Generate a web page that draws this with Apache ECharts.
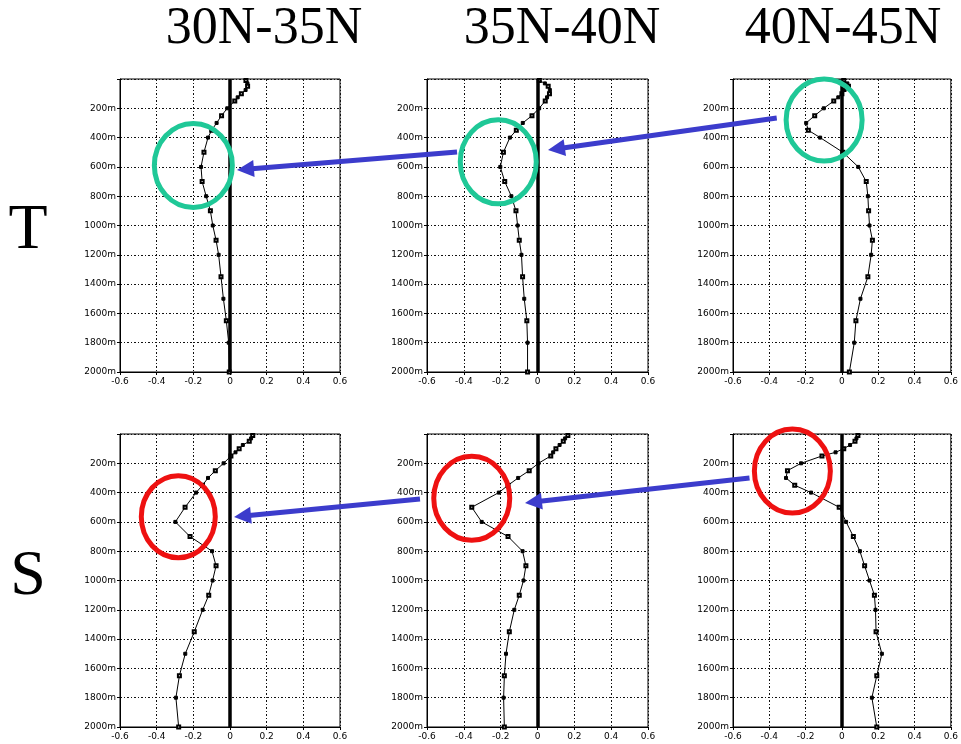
<!DOCTYPE html>
<html>
<head>
<meta charset="utf-8">
<script src="https://cdn.jsdelivr.net/npm/echarts@6/dist/echarts.min.js"></script>
<style>
html,body{margin:0;padding:0;background:#fff;}
#chart{width:961px;height:744px;}
</style>
</head>
<body>
<div id="chart"></div>
<script>
// ---- data ----
const depths = [10, 30, 50, 75, 100, 125, 150, 200, 250, 300, 350, 400, 500, 600, 700, 800, 900, 1000, 1100, 1200, 1350, 1500, 1650, 1800, 2000];
const columnTitles = ['30N-35N', '35N-40N', '40N-45N'];
const rowLabels = ['T', 'S'];
const xTicks = [-0.6, -0.4, -0.2, 0, 0.2, 0.4, 0.6];
const yTicks = [200, 400, 600, 800, 1000, 1200, 1400, 1600, 1800, 2000];

const T_30N35N = [0.087, 0.095, 0.096, 0.085, 0.062, 0.042, 0.026, -0.015, -0.046, -0.073, -0.1, -0.12, -0.142, -0.158, -0.152, -0.13, -0.107, -0.094, -0.076, -0.062, -0.049, -0.036, -0.02, -0.007, -0.004];
const T_35N40N = [0.01, 0.04, 0.058, 0.067, 0.065, 0.052, 0.042, 0.009, -0.03, -0.08, -0.115, -0.15, -0.185, -0.202, -0.178, -0.142, -0.117, -0.108, -0.099, -0.087, -0.081, -0.072, -0.058, -0.054, -0.054];
const T_40N45N = [0.01, 0.03, 0.036, 0.015, 0.0, -0.02, -0.045, -0.1, -0.15, -0.197, -0.185, -0.12, 0.005, 0.09, 0.134, 0.143, 0.147, 0.152, 0.168, 0.161, 0.143, 0.102, 0.077, 0.068, 0.041];
const S_30N35N = [0.124, 0.115, 0.105, 0.07, 0.05, 0.03, 0.005, -0.035, -0.08, -0.12, -0.15, -0.185, -0.245, -0.298, -0.218, -0.098, -0.076, -0.095, -0.116, -0.149, -0.195, -0.244, -0.276, -0.295, -0.28];
const S_35N40N = [0.165, 0.15, 0.14, 0.12, 0.1, 0.085, 0.072, 0.005, -0.045, -0.105, -0.16, -0.21, -0.357, -0.303, -0.16, -0.081, -0.063, -0.076, -0.099, -0.126, -0.153, -0.171, -0.18, -0.184, -0.18];
const S_40N45N = [0.088, 0.08, 0.072, 0.045, 0.01, -0.035, -0.11, -0.225, -0.3, -0.308, -0.26, -0.17, -0.015, 0.023, 0.063, 0.099, 0.125, 0.152, 0.179, 0.185, 0.188, 0.22, 0.192, 0.165, 0.192];

const panels = [T_30N35N, T_35N40N, T_40N45N, S_30N35N, S_35N40N, S_40N45N];

// ---- annotations (in data coordinates of a panel) ----
const GREEN = '#1fc897', RED = '#ee1111', BLUE = '#3c3ccc';
const rings = [
  {p: 0, x: -0.200, d: 590, rx: 39, ry: 42, c: GREEN},
  {p: 1, x: -0.213, d: 565, rx: 38, ry: 42, c: GREEN},
  {p: 2, x: -0.098, d: 280, rx: 38, ry: 41, c: GREEN},
  {p: 3, x: -0.282, d: 565, rx: 37, ry: 41, c: RED},
  {p: 4, x: -0.357, d: 439, rx: 38, ry: 42, c: RED},
  {p: 5, x: -0.273, d: 253, rx: 38, ry: 42, c: RED}
];
const arrows = [
  {from: [1, -0.437, 498], to: [0, 0.038, 621]},
  {from: [2, -0.359, 266], to: [1, 0.057, 485]},
  {from: [4, -0.638, 444], to: [3, 0.022, 566]},
  {from: [5, -0.509, 300], to: [4, -0.068, 471]}
];

// ---- layout ----
const colLeft = [120, 427, 733];
const colWidth = [220, 221, 224];
const rowTop = [79, 434];
const rowHeight = 293;

const grids = [], xAxes = [], yAxes = [], series = [];
const dash = [2, 2, 1, 2];
for (let r = 0; r < 2; r++) {
  for (let c = 0; c < 3; c++) {
    const i = r * 3 + c;
    grids.push({left: colLeft[c], top: rowTop[r], width: colWidth[c], height: rowHeight,
      show: true, borderColor: '#000', borderWidth: 1, backgroundColor: 'transparent'});
    xAxes.push({
      type: 'value', gridIndex: i, min: xTicks[0], max: xTicks[xTicks.length - 1], interval: 0.2,
      axisLine: {show: true, onZero: false, lineStyle: {color: '#000', width: 1}},
      axisTick: {show: true, length: 3, lineStyle: {color: '#000'}},
      axisLabel: {fontSize: 9, color: '#000', margin: 5, fontFamily: 'DejaVu Sans',
        formatter: v => { const t = Math.round(v * 10) / 10; return t === 0 ? '0' : t.toFixed(1); }},
      splitLine: {show: true, lineStyle: {color: '#111', width: 1, type: dash}}
    });
    yAxes.push({
      type: 'value', gridIndex: i, inverse: true, min: 0, max: yTicks[yTicks.length - 1], interval: 200,
      axisLine: {show: true, onZero: false, lineStyle: {color: '#000', width: 1}},
      axisTick: {show: true, length: 3, lineStyle: {color: '#000'}},
      axisLabel: {fontSize: 9, color: '#000', margin: 4, fontFamily: 'DejaVu Sans',
        formatter: v => yTicks.indexOf(v) >= 0 ? v + 'm' : ''},
      splitLine: {show: true, lineStyle: {color: '#111', width: 1, type: dash}}
    });
    const vals = panels[i];
    series.push({
      type: 'line', xAxisIndex: i, yAxisIndex: i,
      data: depths.map((d, k) => [vals[k], d]),
      symbol: (v, p) => (p.dataIndex % 2 ? 'rect' : 'emptyRect'),
      symbolSize: 3,
      showAllSymbol: true,
      lineStyle: {color: '#000', width: 1},
      itemStyle: {color: '#000', borderColor: '#000', borderWidth: 1},
      z: 3,
      markLine: {
        silent: true, symbol: ['none', 'none'], animation: false,
        label: {show: false},
        lineStyle: {color: '#000', width: 3.5, type: 'solid'},
        data: [{xAxis: 0}]
      }
    });
  }
}

const chart = echarts.init(document.getElementById('chart'), null, {renderer: 'canvas'});
chart.setOption({
  animation: false,
  grid: grids, xAxis: xAxes, yAxis: yAxes, series: series
});

function px(p, x, d) { return chart.convertToPixel({gridIndex: p}, [x, d]); }

const gfx = [];
const titleX = [264, 562, 843];
columnTitles.forEach((t, c) => gfx.push({
  type: 'text', x: titleX[c], y: 29, z: 100,
  style: {text: t, fontFamily: 'Liberation Serif', fontSize: 52, fill: '#000', textAlign: 'center', textVerticalAlign: 'middle'}
}));
const rowY = [231, 577];
rowLabels.forEach((t, r) => gfx.push({
  type: 'text', x: 28, y: rowY[r], z: 100,
  style: {text: t, fontFamily: 'Liberation Serif', fontSize: 64, fill: '#000', textAlign: 'center', textVerticalAlign: 'middle'}
}));
rings.forEach(g => {
  const [cx, cy] = px(g.p, g.x, g.d);
  gfx.push({type: 'ellipse', z: 100, shape: {cx, cy, rx: g.rx, ry: g.ry},
    style: {fill: 'none', stroke: g.c, lineWidth: 5}});
});
arrows.forEach(a => {
  const [x1, y1] = px(a.from[0], a.from[1], a.from[2]);
  const [x2, y2] = px(a.to[0], a.to[1], a.to[2]);
  const dx = x2 - x1, dy = y2 - y1, L = Math.hypot(dx, dy);
  const ux = dx / L, uy = dy / L, nx = -uy, ny = ux;
  const hl = 17, hw = 8.5;
  const bx = x2 - ux * hl, by = y2 - uy * hl;
  gfx.push({type: 'line', z: 100, shape: {x1, y1, x2: bx + ux * 2, y2: by + uy * 2},
    style: {stroke: BLUE, lineWidth: 5}});
  gfx.push({type: 'polygon', z: 101, shape: {points: [[x2, y2], [bx + nx * hw, by + ny * hw], [bx - nx * hw, by - ny * hw]]},
    style: {fill: BLUE}});
});
chart.setOption({graphic: gfx});
</script>
</body>
</html>
